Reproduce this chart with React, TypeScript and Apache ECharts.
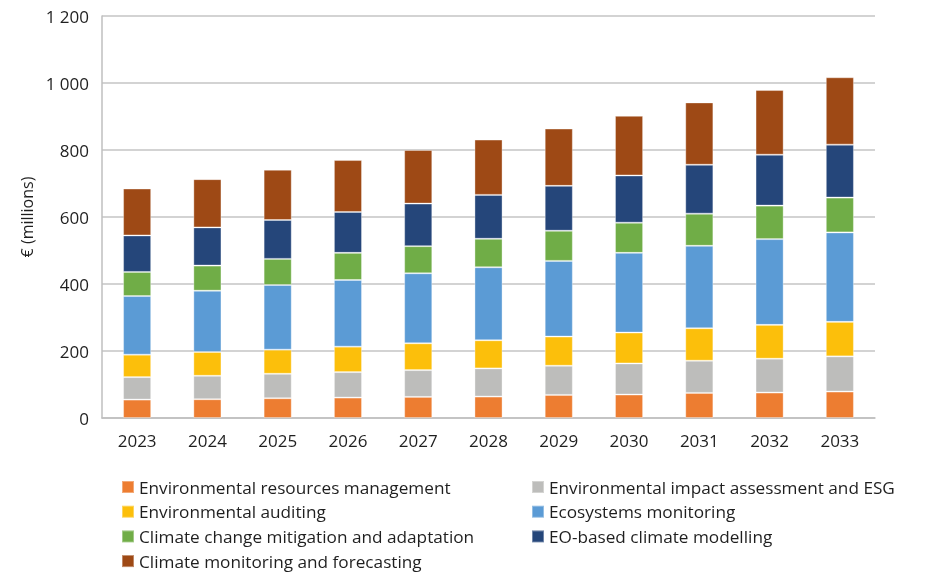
import React, { useEffect, useRef } from "react";
import * as echarts from "echarts";

const years = ["2023", "2024", "2025", "2026", "2027", "2028", "2029", "2030", "2031", "2032", "2033"];

const envResources = [55, 56, 59, 61, 63, 64, 69, 70, 75, 76, 79];
const envImpactESG = [67, 70, 73, 76, 80, 84, 87, 93, 96, 101, 105];
const envAuditing = [67, 71, 72, 76, 80, 84, 87, 92, 97, 101, 103];
const ecosystems = [175, 183, 193, 199, 209, 218, 226, 238, 246, 256, 267];
const climateMitigation = [72, 75, 78, 81, 81, 85, 90, 90, 96, 100, 104];
const eoClimateModelling = [109, 114, 116, 122, 127, 131, 134, 141, 146, 152, 158];
const climateForecasting = [140, 144, 150, 155, 160, 165, 171, 178, 186, 193, 201];

const seriesDefs = [
  { name: "Environmental resources management", data: envResources, color: "#ED7D31" },
  { name: "Environmental impact assessment and ESG", data: envImpactESG, color: "#BDBDBB" },
  { name: "Environmental auditing", data: envAuditing, color: "#FCBF0B" },
  { name: "Ecosystems monitoring", data: ecosystems, color: "#5B9BD5" },
  { name: "Climate change mitigation and adaptation", data: climateMitigation, color: "#70AD47" },
  { name: "EO-based climate modelling", data: eoClimateModelling, color: "#25467A" },
  { name: "Climate monitoring and forecasting", data: climateForecasting, color: "#9E4915" },
];

const leftLegend = [
  "Environmental resources management",
  "Environmental auditing",
  "Climate change mitigation and adaptation",
  "Climate monitoring and forecasting",
];
const rightLegend = [
  "Environmental impact assessment and ESG",
  "Ecosystems monitoring",
  "EO-based climate modelling",
];

const FONT = "'Open Sans', sans-serif";
const TEXT = "#1f1f1f";

export default function App() {
  const ref = useRef<HTMLDivElement>(null);
  useEffect(() => {
    if (!ref.current) return;
    const chart = echarts.init(ref.current, null, { renderer: "svg" });
    const legendCommon = {
      orient: "vertical" as const,
      top: 478,
      height: 94,
      itemWidth: 12,
      itemHeight: 12,
      itemGap: 6.7,
      icon: "rect",
      selectedMode: false,
      padding: 0,
      textStyle: { fontFamily: FONT, fontSize: 17.2, color: TEXT, lineHeight: 18 },
    };
    chart.setOption({
      animation: false,
      textStyle: { fontFamily: FONT },
      grid: { left: 102, right: 58, top: 16, bottom: 156, containLabel: false },
      legend: [
        { ...legendCommon, left: 121, data: leftLegend },
        { ...legendCommon, left: 531, data: rightLegend },
      ],
      xAxis: {
        type: "category",
        data: years,
        axisLine: { show: true, lineStyle: { color: "#bfbfbf", width: 1.5 } },
        axisTick: { show: false },
        axisLabel: { fontFamily: FONT, fontSize: 17, color: TEXT, margin: 14 },
      },
      yAxis: {
        type: "value",
        min: 0,
        max: 1200,
        interval: 200,
        name: "€ (millions)",
        nameLocation: "middle",
        nameGap: 62,
        nameRotate: 90,
        nameTextStyle: { fontFamily: FONT, fontSize: 16, color: TEXT },
        axisLine: { show: true, lineStyle: { color: "#bfbfbf", width: 1.5 } },
        axisTick: { show: false },
        splitLine: { lineStyle: { color: "#c4c4c4", width: 1.5 } },
        axisLabel: {
          fontFamily: FONT,
          fontSize: 17,
          color: TEXT,
          margin: 13,
          formatter: (v: number) => String(v).replace(/\B(?=(\d{3})+(?!\d))/g, " "),
        },
      },
      series: seriesDefs.map((s) => ({
        name: s.name,
        type: "bar",
        stack: "total",
        barWidth: "40%",
        data: s.data,
        itemStyle: { color: s.color, borderColor: "rgba(255,255,255,0.35)", borderWidth: 1 },
      })),
    });
    return () => chart.dispose();
  }, []);
  return (
    <div
      ref={ref}
      style={{ position: "fixed", top: 0, left: 0, width: 933, height: 574 }}
    />
  );
}
